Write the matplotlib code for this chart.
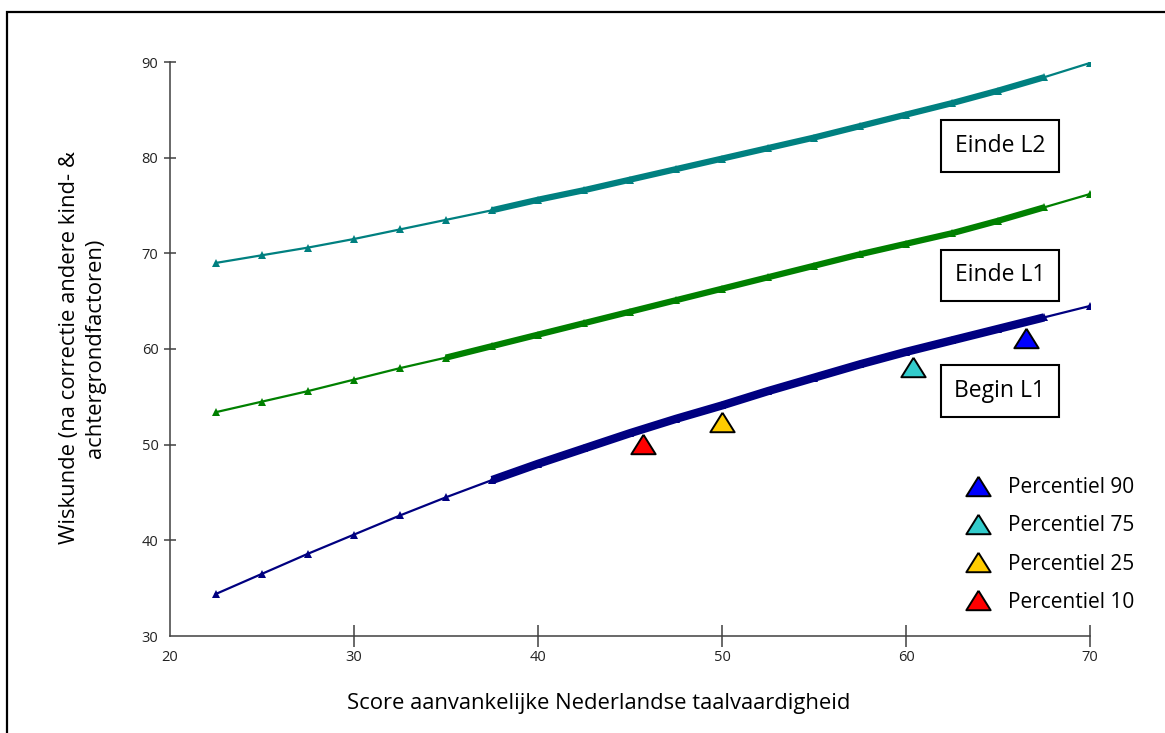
import matplotlib
matplotlib.use('Agg')
import matplotlib.pyplot as plt
from matplotlib.patches import Rectangle

plt.rcParams['font.family'] = ['Open Sans', 'DejaVu Sans']

# score aanvankelijke taalvaardigheid
score = [22.5, 25, 27.5, 30, 32.5, 35, 37.5, 40, 42.5, 45,
         47.5, 50, 52.5, 55, 57.5, 60, 62.5, 65, 67.5, 70]

begin_l1 = [34.4, 36.5, 38.6, 40.6, 42.6, 44.5, 46.3, 48.0, 49.6, 51.2,
            52.7, 54.1, 55.6, 57.0, 58.4, 59.7, 60.9, 62.1, 63.3, 64.5]
einde_l1 = [53.4, 54.5, 55.6, 56.8, 58.0, 59.1, 60.3, 61.5, 62.7, 63.9,
            65.1, 66.3, 67.5, 68.7, 69.9, 71.0, 72.1, 73.4, 74.8, 76.2]
einde_l2 = [69.0, 69.8, 70.6, 71.5, 72.5, 73.5, 74.5, 75.6, 76.6, 77.7,
            78.8, 79.9, 81.0, 82.1, 83.3, 84.5, 85.7, 87.0, 88.4, 89.9]

pct_labels = ['Percentiel 90', 'Percentiel 75', 'Percentiel 25', 'Percentiel 10']
pct_x = [66.5, 60.4, 50.0, 45.7]
pct_y = [61.15, 58.15, 52.4, 50.05]
pct_colors = ['#0000FF', '#33CCCC', '#FFCC00', '#FF0000']

lijn_namen = ['Einde L2', 'Einde L1', 'Begin L1']
lijn_reeksen = [einde_l2, einde_l1, begin_l1]
lijn_kleuren = ['#008080', '#008000', '#000080']
band_start = [6, 5, 6]   # index waar de dichte band begint
band_dikte = [4.5, 4.5, 6]

W, H = 1165, 733
fig = plt.figure(figsize=(W / 100, H / 100), dpi=100)
fig.patch.set_facecolor('white')
ax = fig.add_axes([170 / W, 1 - 636 / H, 920 / W, 574 / H])

# kader rond de figuur
fig.patches.append(Rectangle((7 / W, -0.05), 1.2, 1 - 11.5 / H + 0.05,
                             transform=fig.transFigure, fill=False,
                             edgecolor='black', linewidth=1.6))

tri = [(0, 0.8), (-1, -0.8), (1, -0.8), (0, 0.8)]

for reeks, kleur, i0, lw in zip(lijn_reeksen, lijn_kleuren, band_start, band_dikte):
    ax.plot(score, reeks, color=kleur, linewidth=1.6, marker='^',
            markersize=5.5, markeredgewidth=0)
    ax.plot(score[i0:-1], reeks[i0:-1], color=kleur, linewidth=lw,
            solid_capstyle='butt')

for px, py, kl, lab in zip(pct_x, pct_y, pct_colors, pct_labels):
    ax.plot([px], [py], linestyle='none', marker=tri, markersize=17.5,
            markerfacecolor=kl, markeredgecolor='black',
            markeredgewidth=1.4, label=lab)

box_y = [81.2, 67.7, 55.6]
for naam, by in zip(lijn_namen, box_y):
    ax.text(65.1, by, naam, fontsize=16.5, ha='center', va='center',
            bbox=dict(boxstyle='square,pad=0.6', facecolor='white',
                      edgecolor='black', linewidth=1.5))

ax.set_xlim(20, 70)
ax.set_ylim(30, 90)
ax.set_xticks(range(20, 71, 10))
ax.set_yticks(range(30, 91, 10))
for s in ['top', 'right']:
    ax.spines[s].set_visible(False)
for s in ['left', 'bottom']:
    ax.spines[s].set_color('#404040')
    ax.spines[s].set_linewidth(1.1)
ax.tick_params(axis='x', direction='inout', length=16.5, width=1.1,
               color='#404040', labelsize=10.5, labelcolor='#222222', pad=2)
ax.tick_params(axis='y', direction='inout', length=8.6, width=1.1,
               color='#404040', labelsize=10.5, labelcolor='#222222', pad=4)
ax.xaxis.get_major_ticks()[0].tick1line.set_visible(False)
ax.yaxis.get_major_ticks()[0].tick1line.set_visible(False)

leg = ax.legend(loc='center left', bbox_to_anchor=(965.5 / W, 1 - 545 / H),
                bbox_transform=fig.transFigure, frameon=False, fontsize=15,
                handlelength=1.2, handletextpad=0.85, labelspacing=0.82,
                borderpad=0, borderaxespad=0)

fig.text(599 / W, 1 - 703 / H, 'Score aanvankelijke Nederlandse taalvaardigheid',
         fontsize=15.8, ha='center', va='center')
fig.text(82.5 / W, 1 - 348 / H,
         'Wiskunde (na correctie andere kind- &\nachtergrondfactoren)',
         fontsize=15.8, ha='center', va='center', rotation=90,
         multialignment='center', linespacing=1.3)

fig.savefig('out.png', dpi=100, facecolor='white')
